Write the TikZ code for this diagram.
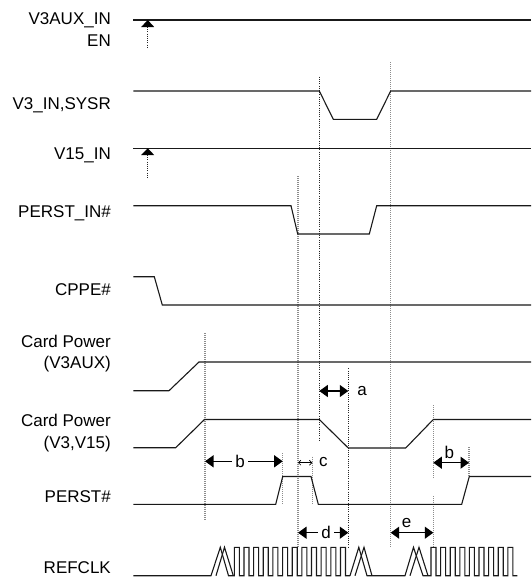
\documentclass[tikz,border=0pt]{standalone}
\usepackage{fontspec}
\setmainfont{Liberation Sans}
\usetikzlibrary{arrows.meta}
\begin{document}
\begin{tikzpicture}[x=1pt,y=-1pt,
  sig/.style={line width=1.1pt, line join=miter, black!90},
  dotA/.style={line width=0.7pt, dash pattern=on 1pt off 1.2pt, black!85},
  dotB/.style={line width=1.1pt, dash pattern=on 1pt off 1pt, black!45},
  lbl/.style={anchor=base east, inner sep=0pt, font=\fontsize{17}{21}\selectfont},
  tlbl/.style={inner sep=0pt, font=\fontsize{17}{21}\selectfont},
  dimarrow/.style={line width=1.1pt, {Triangle[length=8.5pt,width=12pt]}-{Triangle[length=8.5pt,width=12pt]}},
  smalldim/.style={line width=0.6pt, {Straight Barb[length=2.5pt,width=5pt]}-{Straight Barb[length=2.5pt,width=5pt]}},
  tiphead/.style={fill=black}
]
\useasboundingbox (0,0) rectangle (531,584);

% ---------- signal labels ----------
\node[lbl] (lV3auxin) at (111,24) {V3AUX\_IN};
\node[lbl] (lEN) at (111,46) {EN};
\node[lbl] (lV3in) at (111,109) {V3\_IN,SYSR};
\node[lbl] (lV15) at (111,159.5) {V15\_IN};
\node[lbl] (lPerstIn) at (111,217) {PERST\_IN\#};
\node[lbl] (lCppe) at (111,295.5) {CPPE\#};
\node[lbl] (lCpAa) at (111,347) {Card Power};
\node[lbl] (lCpAb) at (111,368.8) {(V3AUX)};
\node[lbl] (lCpBa) at (111,426.5) {Card Power};
\node[lbl] (lCpBb) at (111,448) {(V3,V15)};
\node[lbl] (lPerst) at (111,502.5) {PERST\#};
\node[lbl] (lRefclk) at (111,573.5) {REFCLK};

% ---------- dotted guide lines ----------
\draw[dotA] (147.7,27) -- (147.7,49);
\draw[dotA] (147.7,155) -- (147.7,178);
\draw[dotB] (205,333) -- (205,520);
\draw[dotB] (298,176) -- (298,547);
\draw[dotA] (319.3,76.7) -- (319.3,441);
\draw[dotA] (348.3,368.3) -- (348.3,547);
\draw[dotB] (390.7,62.3) -- (390.7,547);
\draw[dotB] (433.3,405) -- (433.3,478);
\draw[dotB] (433.3,496) -- (433.3,547);
\draw[dotB] (469,447.3) -- (469,477);
\draw[dotB] (282.7,453) -- (282.7,505);
\draw[dotB] (312.3,456.7) -- (312.3,503.3);

% ---------- waveforms ----------
\draw[sig] (133.3,20) -- (531,20);
\fill[tiphead] (141.2,27) -- (147.7,20) -- (154.2,27) -- cycle;

\draw[sig] (133.3,91) -- (319.3,91) -- (333.3,119.3) -- (376.7,119.3) -- (390.7,91) -- (531,91);

\draw[sig] (133.3,148.3) -- (531,148.3);
\fill[tiphead] (141.2,155) -- (147.7,148.3) -- (154.2,155) -- cycle;

\draw[sig] (133.3,205.7) -- (291,205.7) -- (297.7,234) -- (369.3,234) -- (376.7,205.7) -- (531,205.7);

\draw[sig] (133.3,276.7) -- (154.3,276.7) -- (162.3,305) -- (531,305);

\draw[sig] (133.3,390.7) -- (169,390.7) -- (199,362) -- (531,362);

\draw[sig] (133.3,447.7) -- (175.7,447.7) -- (204.5,419.5) -- (319.3,419.5) -- (348.3,448) -- (405.7,448) -- (433.3,419.5) -- (531,419.5);

\draw[sig] (133.3,504.3) -- (275.7,504.3) -- (282.7,476.5) -- (311,476.5) -- (318.3,504.3) -- (461.7,504.3) -- (469.3,476.5) -- (531,476.5);

% REFCLK
\draw[sig] (133.3,575.7) -- (211,575.7) -- (220.3,547.3) -- (228.5,575.7) -- (234.3,575.7)
  foreach \k in {0,...,11} { -- ++(0,-28.4) -- ++(5,0) -- ++(0,28.4) -- ++(4.65,0) }
  -- (350,575.7) -- (358.8,547.3) -- (367,575.7) -- (405,575.7) -- (413.5,547.3) -- (423,575.7) -- (431,575.7)
  foreach \k in {0,...,8} { -- ++(0,-28.4) -- ++(5,0) -- ++(0,28.4) -- ++(4.6,0) }
  -- (517,575.7);
\draw[sig] (216,575.7) -- (224.5,547.3) -- (233.3,575.7);
\draw[sig] (355,575.7) -- (364,547.3) -- (372,575.7);
\draw[sig] (410,575.7) -- (419,547.3) -- (428,575.7);

% ---------- timing dimensions ----------
\coordinate (aL) at (319.3,391);
\coordinate (aR) at (348.3,391);
\coordinate (bL1) at (205,461.3);
\coordinate (bR1) at (282.7,461.3);
\coordinate (cL) at (298,462.7);
\coordinate (cR) at (312.3,462.7);
\coordinate (bL2) at (433.3,462.7);
\coordinate (bR2) at (469,462.7);
\coordinate (dL) at (298,532.7);
\coordinate (dR) at (348.3,532.7);
\coordinate (eL) at (390.7,532.7);
\coordinate (eR) at (433.3,532.7);

\draw[dimarrow] (aL) -- (aR);
\draw[dimarrow] (bL1) -- (bR1);
\draw[smalldim] (cL) -- (cR);
\draw[dimarrow] (bL2) -- (bR2);
\draw[dimarrow] (dL) -- (dR);
\draw[dimarrow] (eL) -- (eR);

\node[tlbl] (la) at (362,391) {a};
\node[tlbl, fill=white, inner xsep=3pt] (lb1) at (240,461.3) {b};
\node[tlbl] (lc) at (323.4,462.5) {c};
\node[tlbl] (lb2) at (449.3,452.7) {b};
\node[tlbl, fill=white, inner xsep=3pt] (ld) at (326,532.7) {d};
\node[tlbl] (le) at (406.7,523.3) {e};
\end{tikzpicture}
\end{document}
